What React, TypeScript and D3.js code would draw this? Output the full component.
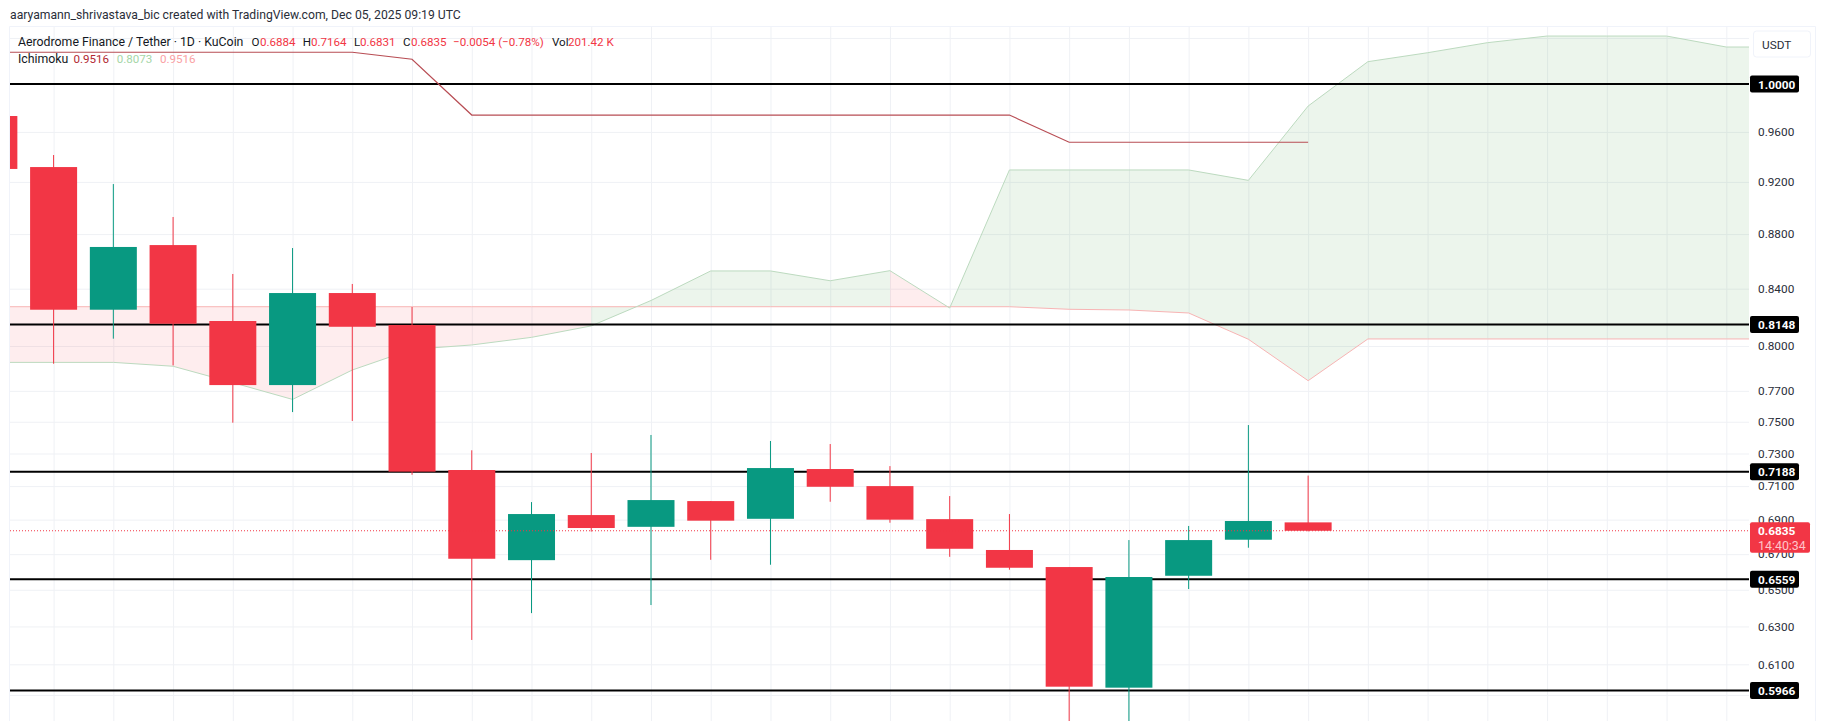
import React, { useEffect, useRef } from 'react';
import * as d3 from 'd3';

// candles start one bar left of the frame, so index 0 here is bar -1
const opens = [0.9731, 0.9317, 0.8251, 0.8718, 0.8172, 0.7738, 0.8369, 0.8144, 0.7198, 0.6666, 0.6927, 0.6858, 0.701, 0.6905, 0.7204, 0.71, 0.6903, 0.6724, 0.6627, 0.598, 0.6578, 0.6783, 0.6884];
const highs = [0.9731, 0.9413, 0.9183, 0.8929, 0.8506, 0.8696, 0.8434, 0.827, 0.732, 0.7004, 0.7303, 0.7416, 0.701, 0.7378, 0.7359, 0.7222, 0.704, 0.6933, 0.6627, 0.6781, 0.6863, 0.7479, 0.7164];
const lows = [0.9302, 0.788, 0.805, 0.7869, 0.7494, 0.7562, 0.7505, 0.7169, 0.6228, 0.6372, 0.683, 0.6416, 0.6668, 0.664, 0.7006, 0.6882, 0.6685, 0.6612, 0.57, 0.57, 0.6504, 0.6737, 0.6831];
const closes = [0.9302, 0.8251, 0.8704, 0.8153, 0.7738, 0.8369, 0.8132, 0.7188, 0.6674, 0.6933, 0.6851, 0.7016, 0.6894, 0.721, 0.7096, 0.69, 0.6731, 0.6623, 0.5985, 0.6571, 0.6781, 0.6892, 0.6835];

// ichimoku, same indexing, running on past the last candle
const spanA = [0.7889, 0.7889, 0.7889, 0.7863, 0.7754, 0.7644, 0.7838, 0.7977, 0.8007, 0.8059, 0.8138, 0.8316, 0.8528, 0.8528, 0.8457, 0.853, 0.8263, 0.9294, 0.9294, 0.9294, 0.9294, 0.9212, 0.9814, 1.0192, 1.027, 1.0358, 1.0417, 1.0417, 1.0417, 1.032, 1.032];
const spanB = [0.8272, 0.8272, 0.8272, 0.8272, 0.8272, 0.8272, 0.8272, 0.8272, 0.8272, 0.8272, 0.8272, 0.8272, 0.8272, 0.8272, 0.8272, 0.8272, 0.8272, 0.8272, 0.8254, 0.8249, 0.8228, 0.8046, 0.7767, 0.8048, 0.8048, 0.8048, 0.8048, 0.8048, 0.8048, 0.8048, 0.8048];
const baseLine = [1.0274, 1.0274, 1.0274, 1.0274, 1.0274, 1.0274, 1.0274, 1.0213, 0.9739, 0.9739, 0.9739, 0.9739, 0.9739, 0.9739, 0.9739, 0.9739, 0.9739, 0.9739, 0.9516, 0.9516, 0.9516, 0.9516, 0.9516];

const priceTicks = [0.96, 0.92, 0.88, 0.84, 0.8, 0.77, 0.75, 0.73, 0.71, 0.69, 0.67, 0.65, 0.63, 0.61];
const hiddenGridTicks = [1.04, 0.5943];
const levels = [1, 0.8148, 0.7188, 0.6559, 0.5966];
const lastPrice = 0.6835;
const countdown = '14:40:34';

const RED = '#f23645';
const GREEN = '#089981';
const FONT = 'Roboto, sans-serif';

const left = 10;
const right = 1749;
const top = 27;
const bottom = 721;

export default function App() {
  const svgRef = useRef<SVGSVGElement>(null);

  useEffect(() => {
    if (!svgRef.current) return;
    const svg = d3.select(svgRef.current);
    svg.selectAll('*').remove();

    const x = d3.scaleLinear().domain([1, 29]).range([53.6, 1726.3]);
    const y = d3.scaleLog().domain([1, 0.5]).range([84, 897.8]);
    const bars = d3.range(spanA.length);

    svg.append('defs').append('clipPath').attr('id', 'plot')
      .append('rect').attr('x', left).attr('y', top).attr('width', right - left).attr('height', bottom - top);

    // frame
    svg.append('path')
      .attr('d', `M9.5,${bottom}V${top - 0.5}H1815.5V${bottom}`)
      .attr('fill', 'none').attr('stroke', '#f0f3fa');

    const plot = svg.append('g').attr('clip-path', 'url(#plot)');

    // Grid lines
    const gridY = plot.append('g').attr('transform', `translate(${left},0)`)
      .call(d3.axisRight(y).tickValues([...priceTicks, ...hiddenGridTicks]).tickSize(right - left).tickFormat(() => ''));
    gridY.select('.domain').remove();
    gridY.selectAll('line').attr('stroke', '#eff1f5');

    const gridX = plot.append('g').attr('transform', `translate(0,${top})`)
      .call(d3.axisBottom(x).tickValues(bars.slice(1)).tickSize(bottom - top).tickFormat(() => ''));
    gridX.select('.domain').remove();
    gridX.selectAll('line').attr('stroke', '#eff1f5');

    // Cloud, one piece per bar so the colour can flip at a bar edge
    const cloud = d3.area<number>()
      .x(i => x(i))
      .y0(i => y(spanB[i]))
      .y1(i => y(spanA[i]));
    bars.slice(0, -1).forEach(i => {
      const up = spanA[i + 1] >= spanB[i + 1];
      plot.append('path')
        .attr('d', cloud([i, i + 1]))
        .attr('fill', up ? '#43a047' : RED)
        .attr('fill-opacity', up ? 0.1 : 0.09);
    });

    const lineOf = (values: number[]) => d3.line<number>().x((_, i) => x(i)).y(d => y(d))(values);
    plot.append('path').attr('d', lineOf(spanB)).attr('fill', 'none').attr('stroke', '#f8b4b4').attr('stroke-width', 1);
    plot.append('path').attr('d', lineOf(spanA)).attr('fill', 'none').attr('stroke', '#bcdabf').attr('stroke-width', 1);

    // Horizontal levels
    plot.selectAll('.level').data(levels).join('line')
      .attr('x1', left).attr('x2', right)
      .attr('y1', d => y(d)).attr('y2', d => y(d))
      .attr('stroke', '#000000').attr('stroke-width', 2);

    plot.append('path').attr('d', lineOf(baseLine)).attr('fill', 'none').attr('stroke', '#b84d54').attr('stroke-width', 1.2);

    // Candles
    const candles = plot.append('g');
    opens.forEach((open, i) => {
      const close = closes[i];
      const color = close >= open ? GREEN : RED;
      candles.append('line')
        .attr('x1', x(i)).attr('x2', x(i))
        .attr('y1', y(highs[i])).attr('y2', y(lows[i]))
        .attr('stroke', color).attr('stroke-width', 1);
      candles.append('rect')
        .attr('x', x(i) - 23.5).attr('width', 47)
        .attr('y', y(Math.max(open, close)))
        .attr('height', Math.abs(y(close) - y(open)))
        .attr('fill', color);
    });

    // Last price line
    plot.append('line')
      .attr('x1', left).attr('x2', right)
      .attr('y1', y(lastPrice)).attr('y2', y(lastPrice))
      .attr('stroke', RED).attr('stroke-width', 1).attr('stroke-dasharray', '1 2');

    // Price axis
    const axis = svg.append('g').attr('transform', `translate(${right},0)`)
      .call(d3.axisRight(y).tickValues(priceTicks).tickSize(0).tickPadding(9).tickFormat(d => d3.format('.4f')(d as number)));
    axis.select('.domain').remove();
    axis.selectAll('text').attr('font-family', FONT).attr('font-size', 11.8).attr('fill', '#2a2e39');

    // USDT button
    svg.append('rect').attr('x', 1753.5).attr('y', 31).attr('width', 57).attr('height', 26).attr('rx', 3)
      .attr('fill', '#fff').attr('stroke', '#f0f3fa');
    svg.append('text').attr('x', 1762).attr('y', 44.7).attr('dy', '0.35em')
      .attr('font-family', FONT).attr('font-size', 11.8).attr('fill', '#2a2e39').text('USDT');

    // Level badges
    levels.forEach(level => {
      svg.append('rect').attr('x', 1750).attr('y', y(level) - 8.5).attr('width', 49).attr('height', 17).attr('rx', 2).attr('fill', '#000');
      svg.append('text').attr('x', 1758).attr('y', y(level) + 0.5).attr('dy', '0.35em')
        .attr('font-family', FONT).attr('font-size', 11.8).attr('font-weight', 700).attr('fill', '#fff')
        .text(d3.format('.4f')(level));
    });

    // Last price badge
    svg.append('rect').attr('x', 1750).attr('y', y(lastPrice) - 8.5).attr('width', 60).attr('height', 30.5).attr('rx', 2).attr('fill', RED);
    svg.append('text').attr('x', 1758).attr('y', y(lastPrice)).attr('dy', '0.35em')
      .attr('font-family', FONT).attr('font-size', 11.8).attr('font-weight', 700).attr('fill', '#fff').text(d3.format('.4f')(lastPrice));
    svg.append('text').attr('x', 1758).attr('y', y(lastPrice) + 14.5).attr('dy', '0.35em')
      .attr('font-family', FONT).attr('font-size', 12.4).attr('fill', '#ffc4c9').text(countdown);

    // Header and legend
    const label = (tx: number, ty: number, value: string, fill: string, size = 11.6) =>
      svg.append('text').attr('x', tx).attr('y', ty).attr('dy', '0.35em')
        .attr('font-family', FONT).attr('font-size', size).attr('fill', fill).text(value);

    label(10, 15, 'aaryamann_shrivastava_bic created with TradingView.com, Dec 05, 2025 09:19 UTC', '#2a2e39', 12.2);
    label(18, 41.7, 'Aerodrome Finance / Tether · 1D · KuCoin', '#131722', 12.3);
    label(251.4, 41.7, 'O', '#131722');
    label(260, 41.7, '0.6884', RED);
    label(302.7, 41.7, 'H', '#131722');
    label(311, 41.7, '0.7164', RED);
    label(354, 41.7, 'L', '#131722');
    label(360, 41.7, '0.6831', RED);
    label(403, 41.7, 'C', '#131722');
    label(411, 41.7, '0.6835', RED);
    label(453, 41.7, '−0.0054 (−0.78%)', RED);
    label(552, 41.7, 'Vol', '#131722');
    label(568, 41.7, '201.42 K', RED);
    label(18, 58.7, 'Ichimoku', '#131722', 12.3);
    label(73.5, 58.7, '0.9516', '#b22833');
    label(116.7, 58.7, '0.8073', '#a5d6a7');
    label(160, 58.7, '0.9516', '#faa1a4');
  }, []);

  return (
    <svg
      ref={svgRef}
      width={1825}
      height={721}
      style={{ position: 'absolute', left: 0, top: 0, background: '#fff', display: 'block' }}
    />
  );
}
